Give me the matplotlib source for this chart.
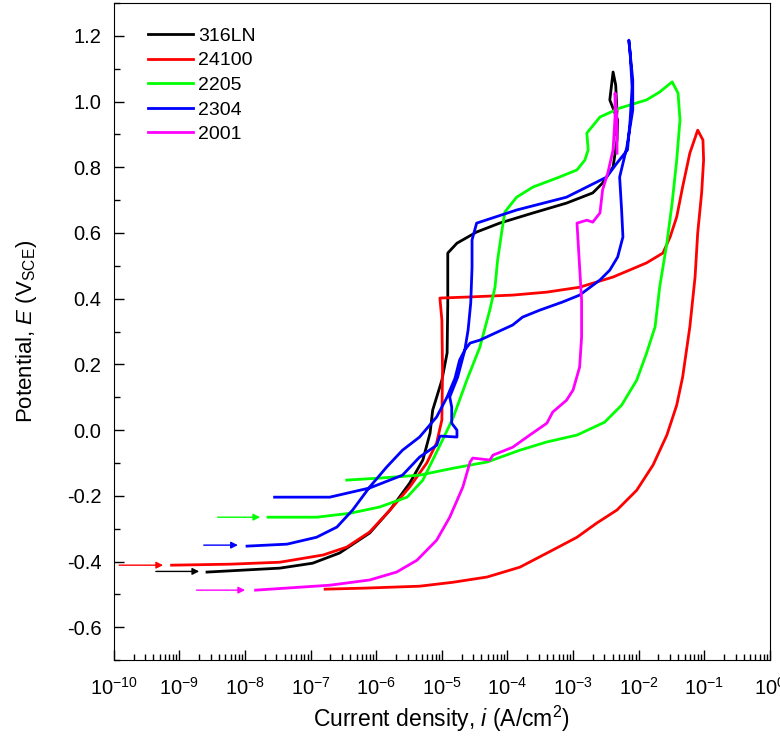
import numpy as np
import matplotlib

matplotlib.use("Agg")
import matplotlib.pyplot as plt  # noqa: E402
from matplotlib.ticker import LogLocator, MultipleLocator, LogFormatterMathtext  # noqa: E402

# log10(current density, A/cm2) and potential (V_SCE)
logi_316 = [-8.58, -7.47, -6.97, -6.56, -6.10, -5.79, -5.49, -5.29, -5.18, -5.14,
            -5.00, -4.92, -4.91, -4.91, -4.77, -4.47, -4.12, -3.61, -3.10, -2.70,
            -2.55, -2.39, -2.33, -2.32, -2.44, -2.41, -2.39, -2.35, -2.33, -2.36]
e_316 = [-0.432, -0.420, -0.405, -0.374, -0.313, -0.243, -0.161, -0.091, -0.009, 0.061,
         0.152, 0.235, 0.387, 0.539, 0.569, 0.603, 0.630, 0.661, 0.691, 0.722,
         0.752, 0.801, 0.883, 0.944, 1.005, 1.056, 1.090, 1.050, 0.970, 0.900]

logi_24100 = [-9.12, -8.23, -7.47, -6.81, -6.45, -6.10, -5.79, -5.49, -5.23, -5.08,
              -5.00, -4.99, -5.00, -5.03, -4.62, -3.92, -3.40, -2.90, -2.39, -1.88,
              -1.63, -1.52, -1.42, -1.33, -1.22, -1.10,
              -1.02, -1.01, -1.04, -1.10, -1.14, -1.22, -1.33, -1.42, -1.57, -1.78,
              -2.03, -2.33, -2.64, -2.94, -3.31, -3.81, -4.31, -4.83, -5.34, -6.20, -6.78]
e_24100 = [-0.411, -0.408, -0.402, -0.380, -0.356, -0.310, -0.243, -0.173, -0.100, -0.039,
           0.031, 0.183, 0.335, 0.402, 0.405, 0.411, 0.420, 0.435, 0.466, 0.509,
           0.539, 0.588, 0.649, 0.740, 0.843, 0.913,
           0.883, 0.822, 0.722, 0.600, 0.466, 0.314, 0.161, 0.076, -0.015, -0.106,
           -0.183, -0.243, -0.283, -0.326, -0.365, -0.417, -0.447, -0.463, -0.475, -0.481, -0.484]

logi_2205 = [-7.65, -6.91, -6.40, -5.95, -5.53, -5.29, -5.14, -4.99, -4.83, -4.62,
             -4.42, -4.27, -4.19, -4.15, -4.09, -4.04, -3.86, -3.61, -3.25, -2.94,
             -2.82, -2.77, -2.79, -2.59, -2.29, -1.88, -1.68, -1.49,
             -1.40, -1.37, -1.42, -1.49, -1.57, -1.68, -1.75, -1.88, -2.03, -2.26,
             -2.52, -2.94, -3.40, -3.81, -4.31, -4.83, -5.34, -5.95, -6.45]
e_2205 = [-0.265, -0.265, -0.253, -0.234, -0.204, -0.152, -0.091, -0.030, 0.037, 0.152,
          0.253, 0.365, 0.435, 0.518, 0.600, 0.664, 0.709, 0.740, 0.767, 0.792,
          0.822, 0.853, 0.904, 0.953, 0.980, 1.005, 1.029, 1.060,
          1.026, 0.944, 0.822, 0.691, 0.569, 0.435, 0.314, 0.234, 0.152, 0.076,
          0.024, -0.015, -0.036, -0.061, -0.097, -0.116, -0.137, -0.146, -0.152]

logi_2304 = [-7.97, -7.36, -6.91, -6.60, -6.36, -6.10, -5.84, -5.60, -5.34, -5.08,
             -4.92, -4.80, -4.73, -4.65, -4.60, -4.56, -4.54, -4.54, -4.47, -3.86,
             -3.10, -2.49, -2.33, -2.17, -2.13, -2.10, -2.13, -2.15,
             -2.09, -2.09, -2.18, -2.29, -2.26, -2.24, -2.32, -2.44, -2.59, -2.90,
             -3.16, -3.51, -3.77, -3.92, -4.16, -4.42, -4.57, -4.65, -4.76, -4.88,
             -4.85, -4.85, -4.77, -4.77, -5.03, -5.08, -5.34, -5.60, -6.10, -6.71, -7.55]
e_2304 = [-0.353, -0.347, -0.326, -0.295, -0.243, -0.173, -0.112, -0.061, -0.021, 0.040,
          0.101, 0.158, 0.213, 0.244, 0.305, 0.387, 0.496, 0.579, 0.630, 0.670,
          0.709, 0.770, 0.813, 0.853, 0.944, 1.044, 1.148, 1.187,
          1.066, 0.974, 0.862, 0.770, 0.670, 0.588, 0.527, 0.487, 0.457, 0.411,
          0.390, 0.365, 0.344, 0.320, 0.298, 0.274, 0.265, 0.244, 0.161, 0.101,
          0.070, 0.021, 0.000, -0.021, -0.018, -0.046, -0.082, -0.137, -0.176, -0.204, -0.204]

logi_2001 = [-7.84, -6.71, -6.10, -5.69, -5.38, -5.08, -4.88, -4.68, -4.57, -4.53,
             -4.27, -4.22, -3.92, -3.66, -3.40, -3.31, -3.10, -3.00, -2.90, -2.87,
             -2.87, -2.90, -2.94, -2.79, -2.70, -2.59, -2.55, -2.47, -2.39, -2.36,
             -2.36, -2.33, -2.33]
e_2001 = [-0.487, -0.472, -0.456, -0.432, -0.396, -0.335, -0.265, -0.173, -0.097, -0.085,
          -0.091, -0.076, -0.052, -0.015, 0.021, 0.055, 0.091, 0.122, 0.192, 0.283,
          0.396, 0.496, 0.630, 0.639, 0.633, 0.661, 0.731, 0.783, 0.853, 0.953,
          1.026, 0.944, 0.843]

labels = ["316LN", "24100", "2205", "2304", "2001"]
colors = ["#000000", "#ff0000", "#00ff00", "#0000ff", "#ff00ff"]

# scan-direction arrows at the start of each curve
arrow_start = [-9.36, -9.92, -8.42, -8.63, -8.74]
arrow_end = [-8.70, -9.25, -7.77, -8.11, -8.00]
arrow_e = [-0.430, -0.411, -0.265, -0.350, -0.487]

plt.rcParams.update({
    "font.family": ["Liberation Sans", "DejaVu Sans"],
    "font.size": 14,
    "mathtext.fontset": "custom",
    "mathtext.rm": "Liberation Sans",
    "mathtext.it": "Liberation Sans:italic",
    "mathtext.default": "regular",
    "axes.unicode_minus": False,
    "xtick.direction": "in",
    "ytick.direction": "in",
})

fig = plt.figure(figsize=(7.8, 7.51), dpi=100)
ax = fig.add_axes([0.146, 0.121, 0.841, 0.875])

series = [(logi_316, e_316), (logi_24100, e_24100), (logi_2205, e_2205),
          (logi_2304, e_2304), (logi_2001, e_2001)]
for (li, e), lab, c in zip(series, labels, colors):
    ax.plot(10 ** np.array(li), e, color=c, lw=2, label=lab)

for s, t, e, c in zip(arrow_start, arrow_end, arrow_e, colors):
    ax.annotate("", xy=(10 ** t, e), xytext=(10 ** s, e),
                arrowprops=dict(arrowstyle="-|>", color=c, lw=1, mutation_scale=10,
                                shrinkA=0, shrinkB=0))

ax.set_xscale("log")
ax.set_xlim(1e-10, 1)
ax.set_ylim(-0.7, 1.3)
ax.xaxis.set_major_locator(LogLocator(base=10, numticks=12))
ax.xaxis.set_minor_locator(LogLocator(base=10, subs=np.arange(2, 10), numticks=12))
ax.xaxis.set_major_formatter(LogFormatterMathtext())
ax.yaxis.set_major_locator(MultipleLocator(0.2))
ax.yaxis.set_minor_locator(MultipleLocator(0.1))
ax.yaxis.set_major_formatter(plt.FuncFormatter(lambda v, p: f"{v:.1f}" if abs(v) > 1e-9 else "0.0"))
ax.tick_params(which="major", length=7, width=1, labelsize=14.5, pad=9)
ax.tick_params(which="minor", length=4, width=1)
ax.tick_params(axis="x", which="major", pad=12)

ax.set_xlabel("Current density, $\\mathit{i}$ (A/cm$^2$)", fontsize=16.5, labelpad=4)
ax.set_ylabel("Potential, $\\mathit{E}$ (V$_{SCE}$)", fontsize=16, labelpad=20)

ax.legend(loc="upper left", bbox_to_anchor=(0.04, 0.975), frameon=False, fontsize=14,
          handlelength=2.3, handletextpad=0.3, labelspacing=0.36, borderaxespad=0)

fig.savefig("out.png", dpi=100)
